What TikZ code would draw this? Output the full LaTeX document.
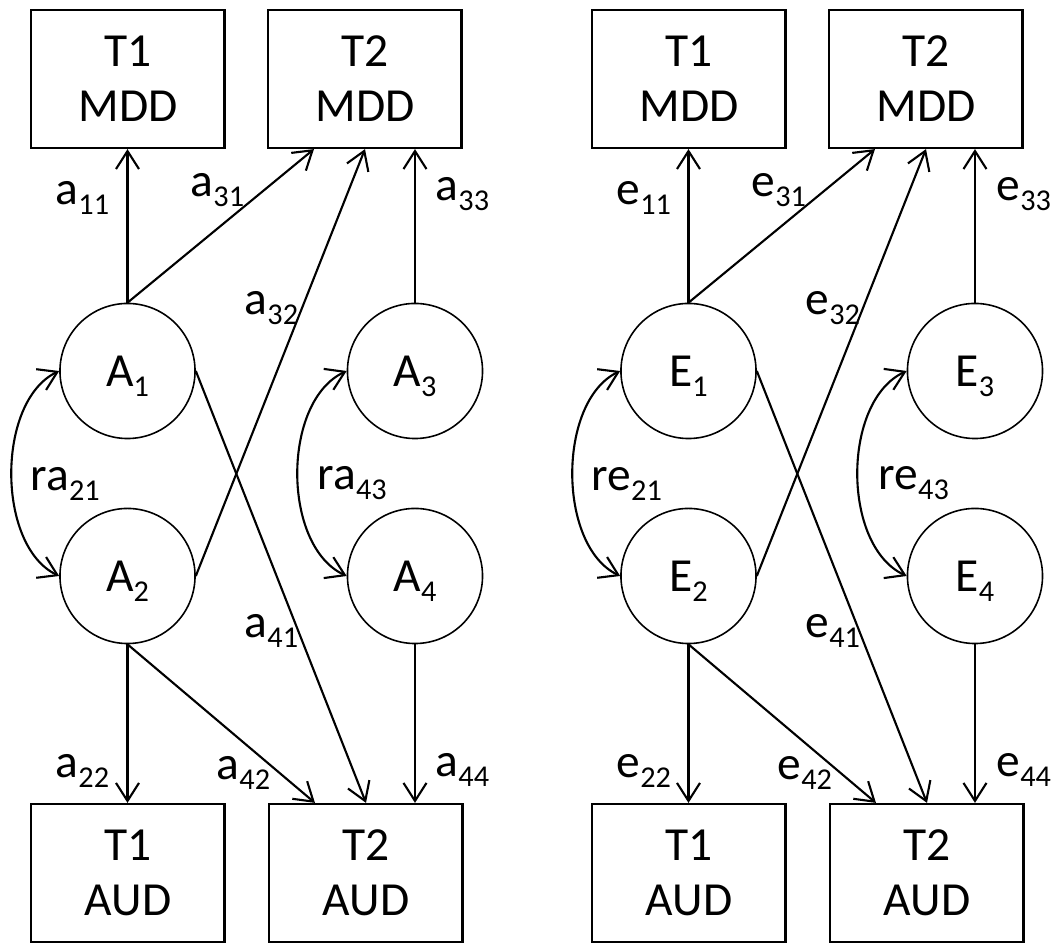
\documentclass[tikz,border=0pt]{standalone}
\usepackage{fontspec}
\setmainfont{Carlito}
\usetikzlibrary{arrows.meta}
\newcommand{\sbs}[1]{\raisebox{-0.21em}{\fontsize{8.6pt}{9pt}\selectfont #1}}

\begin{document}
\begin{tikzpicture}[x=0.01cm,y=-0.01cm,
  every node/.style={font=\fontsize{13.5pt}{15.6pt}\selectfont},
  obs/.style={draw,line width=0.6pt,minimum width=1.93cm,minimum height=1.38cm,align=center,inner sep=0pt},
  lat/.style={draw,circle,line width=0.45pt,minimum size=1.35cm,inner sep=0pt,text depth=0pt},
  lbl/.style={anchor=base west,inner sep=0pt},
  load/.style={line width=0.6pt,-{Straight Barb[length=1.8mm,width=2.3mm]}},
  cov/.style={line width=0.6pt,{Straight Barb[length=1.8mm,width=2.3mm]}-{Straight Barb[length=1.8mm,width=2.3mm]}}]
\useasboundingbox (0,0) rectangle (1053,943);

\node[obs] (am1) at (128,79) {T1\\MDD};
\node[obs] (am2) at (365,79) {T2\\MDD};
\node[obs] (au1) at (128,873) {T1\\AUD};
\node[obs] (au2) at (366,873) {T2\\AUD};
\node[lat] (A1) at (127.5,371) {A\sbs{1}};
\node[lat] (A2) at (127.5,576) {A\sbs{2}};
\node[lat] (A3) at (415,371) {A\sbs{3}};
\node[lat] (A4) at (415,576) {A\sbs{4}};
\draw[load] (A1.north) -- (A1.north |- am1.south);
\draw[load] (A1.north) -- ([xshift=-0.51cm]am2.south);
\draw[load] (A2.east) -- (am2.south);
\draw[load] (A3.north) -- (A3.north |- am2.south);
\draw[load] (A1.east) -- (au2.north);
\draw[load] (A2.south) -- (A2.south |- au1.north);
\draw[load] (A2.south) -- ([xshift=-0.51cm]au2.north);
\draw[load] (A4.south) -- (A4.south |- au2.north);
\draw[cov] (A1.west) .. controls +(-63,30) and +(-63,-30) .. (A2.west);
\draw[cov] (A3.west) .. controls +(-65,30) and +(-65,-30) .. (A4.west);
\node[lbl] (la11) at (55,205) {a\sbs{11}};
\node[lbl] (la31) at (190,197) {a\sbs{31}};
\node[lbl] (la33) at (435,201) {a\sbs{33}};
\node[lbl] (la32) at (244,315) {a\sbs{32}};
\node[lbl] (lra21) at (30,491) {ra\sbs{21}};
\node[lbl] (lra43) at (317,490) {ra\sbs{43}};
\node[lbl] (la41) at (244,638) {a\sbs{41}};
\node[lbl] (la22) at (55,778) {a\sbs{22}};
\node[lbl] (la42) at (216,780) {a\sbs{42}};
\node[lbl] (la44) at (435,777) {a\sbs{44}};

\node[obs] (em1) at (689,79) {T1\\MDD};
\node[obs] (em2) at (926,79) {T2\\MDD};
\node[obs] (eu1) at (689,873) {T1\\AUD};
\node[obs] (eu2) at (927,873) {T2\\AUD};
\node[lat] (E1) at (688.5,371) {E\sbs{1}};
\node[lat] (E2) at (688.5,576) {E\sbs{2}};
\node[lat] (E3) at (975,371) {E\sbs{3}};
\node[lat] (E4) at (975,576) {E\sbs{4}};
\draw[load] (E1.north) -- (E1.north |- em1.south);
\draw[load] (E1.north) -- ([xshift=-0.51cm]em2.south);
\draw[load] (E2.east) -- (em2.south);
\draw[load] (E3.north) -- (E3.north |- em2.south);
\draw[load] (E1.east) -- (eu2.north);
\draw[load] (E2.south) -- (E2.south |- eu1.north);
\draw[load] (E2.south) -- ([xshift=-0.51cm]eu2.north);
\draw[load] (E4.south) -- (E4.south |- eu2.north);
\draw[cov] (E1.west) .. controls +(-63,30) and +(-63,-30) .. (E2.west);
\draw[cov] (E3.west) .. controls +(-65,30) and +(-65,-30) .. (E4.west);
\node[lbl] (le11) at (616,205) {e\sbs{11}};
\node[lbl] (le31) at (751,197) {e\sbs{31}};
\node[lbl] (le33) at (996,201) {e\sbs{33}};
\node[lbl] (le32) at (805,315) {e\sbs{32}};
\node[lbl] (lre21) at (591,491) {re\sbs{21}};
\node[lbl] (lre43) at (878,490) {re\sbs{43}};
\node[lbl] (le41) at (805,638) {e\sbs{41}};
\node[lbl] (le22) at (616,778) {e\sbs{22}};
\node[lbl] (le42) at (777,780) {e\sbs{42}};
\node[lbl] (le44) at (996,777) {e\sbs{44}};
\end{tikzpicture}
\end{document}
